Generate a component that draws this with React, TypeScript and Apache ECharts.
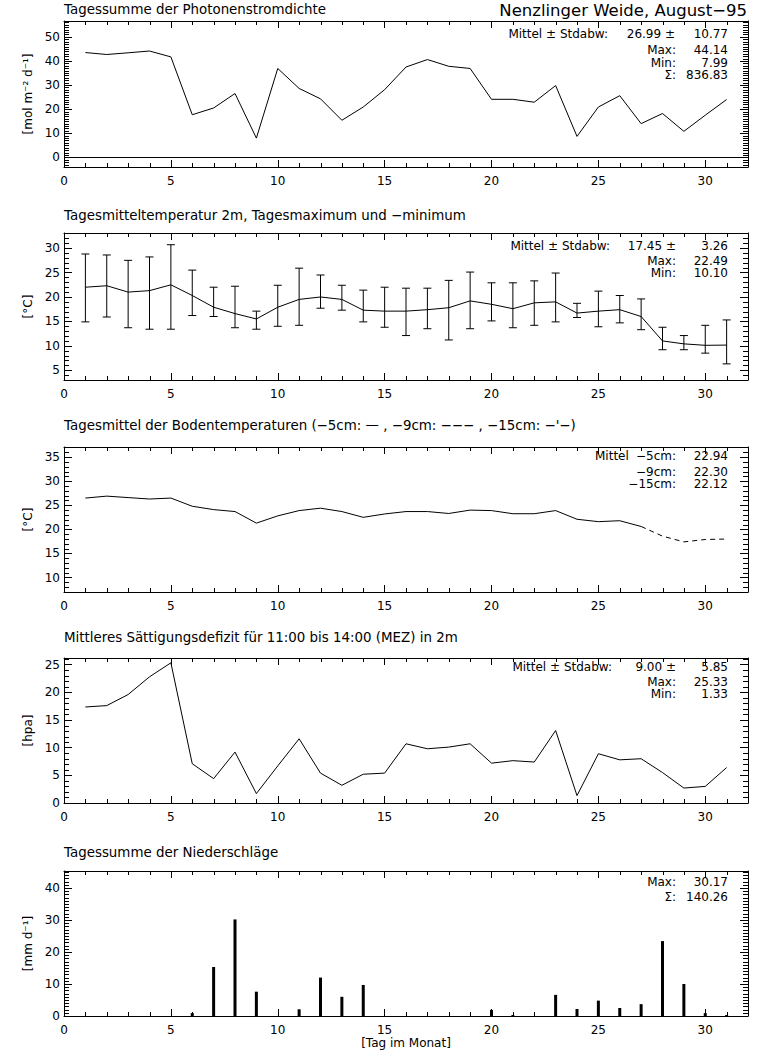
import React, { useEffect, useRef } from 'react';
import * as echarts from 'echarts';

// ---------- data ----------
const days = Array.from({ length: 31 }, (_, i) => i + 1);

const photon = [43.5, 42.7, 43.4, 44.14, 41.7, 17.7, 20.5, 26.5, 7.99, 36.9, 28.6, 24.3, 15.4, 20.9, 28.1,
  37.5, 40.6, 37.8, 36.9, 24.1, 24.1, 22.9, 29.8, 8.7, 20.9, 25.6, 14.0, 18.2, 10.8, 17.5, 24.0];

const tMean = [22.0, 22.3, 21.0, 21.3, 22.49, 20.3, 17.9, 16.6, 15.5, 17.9, 19.5, 20.0, 19.5, 17.3, 17.1,
  17.1, 17.4, 17.8, 19.2, 18.5, 17.6, 18.8, 19.0, 16.7, 17.1, 17.4, 16.0, 11.0, 10.4, 10.1, 10.15];
const tMax = [28.8, 28.6, 27.5, 28.2, 30.7, 25.5, 22.0, 22.2, 17.1, 22.4, 25.9, 24.5, 22.4, 21.4, 22.0,
  21.8, 21.8, 23.4, 25.1, 22.9, 22.9, 23.3, 24.9, 18.7, 21.2, 20.3, 19.6, 13.8, 12.1, 14.2, 15.3];
const tMin = [14.9, 15.9, 13.7, 13.4, 13.4, 16.2, 16.0, 13.7, 13.4, 14.0, 14.2, 17.7, 17.3, 14.9, 13.8,
  12.1, 13.5, 11.2, 13.5, 15.1, 13.7, 14.2, 14.9, 15.8, 13.9, 14.7, 13.3, 9.2, 9.2, 8.5, 6.3];

const soil5 = [26.5, 26.9, 26.6, 26.3, 26.5, 24.8, 24.1, 23.7, 21.3, 22.8, 23.9, 24.4, 23.7, 22.5, 23.2,
  23.7, 23.7, 23.3, 24.0, 23.9, 23.25, 23.25, 23.9, 22.1, 21.6, 21.8, 20.6, null, null, null, null];
const soil9 = [null, null, null, null, null, null, null, null, null, null, null, null, null, null, null,
  null, null, null, null, null, null, null, null, null, null, null, 20.6, 18.6, 17.4, 17.9, 18.0];

const vpd = [17.35, 17.6, 19.6, 22.8, 25.33, 7.1, 4.4, 9.2, 1.7, 6.7, 11.6, 5.4, 3.2, 5.2, 5.4,
  10.7, 9.8, 10.1, 10.7, 7.2, 7.65, 7.4, 13.1, 1.33, 8.9, 7.8, 8.0, 5.5, 2.7, 3.0, 6.4];

const rain = [0, 0, 0, 0, 0, 0.9, 15.3, 30.17, 7.6, 0, 2.1, 12.0, 6.0, 9.7, 0,
  0, 0, 0, 0, 1.9, 0.3, 0, 6.6, 2.2, 4.8, 2.5, 3.7, 23.4, 10.0, 0.9, 0.3];

const xTicks = [0, 5, 10, 15, 20, 25, 30];

// ---------- styling helpers ----------
const FONT = 'DejaVu Sans';
const K = '#000';
const TITLE = 13.4;
const X_MIN = 0;
const X_MAX = 32;
const X_MAJOR = 5;

function xAxes(grid: number, name?: string) {
  const base: any = {
    type: 'value', gridIndex: grid, min: X_MIN, max: X_MAX, interval: X_MAJOR, z: 5,
    axisLine: { show: true, onZero: false, lineStyle: { color: K, width: 1 } },
    axisTick: { show: true, inside: true, length: 7, lineStyle: { color: K, width: 1 } },
    splitLine: { show: false },
  };
  return [
    {
      ...base, position: 'bottom',
      axisLabel: {
        show: true, margin: 8, color: K, fontFamily: FONT, fontSize: 12,
        formatter: (v: number) => (xTicks.indexOf(v) >= 0 ? String(v) : ''),
      },
      name: name || '', nameLocation: 'middle', nameGap: 20,
      nameTextStyle: { color: K, fontFamily: FONT, fontSize: 12 },
    },
    { ...base, position: 'top', axisLabel: { show: false } },
  ];
}

function yAxes(grid: number, min: number, max: number, major: number, name: string) {
  const base: any = {
    type: 'value', gridIndex: grid, min, max, minInterval: major, maxInterval: major, splitNumber: 5, z: 5,
    axisLine: { show: true, onZero: false, lineStyle: { color: K, width: 1 } },
    axisTick: { show: true, inside: true, length: 8, lineStyle: { color: K, width: 1 } },
    splitLine: { show: false },
  };
  return [
    {
      ...base, position: 'left',
      axisLabel: {
        show: true, margin: 4, color: K, fontFamily: FONT, fontSize: 12,
        formatter: (v: number) => (Math.abs(v / major - Math.round(v / major)) < 1e-6 ? String(Math.round(v)) : ''),
      },
      name, nameLocation: 'middle', nameGap: 25, nameRotate: 90,
      nameTextStyle: { color: K, fontFamily: FONT, fontSize: 12 },
    },
    { ...base, position: 'right', axisLabel: { show: false } },
  ];
}

// minor tick positions (every unit) on the four sides of a panel, placed by the axes' scales
function minorTickSeries(g: number, yMin: number, yMax: number, yMajor: number) {
  const data: number[][] = [];
  for (let v = X_MIN + 1; v < X_MAX; v++) if (v % X_MAJOR !== 0) data.push([v, yMin, 0]);
  for (let v = Math.ceil(yMin) + 1; v < yMax; v++) if (v % yMajor !== 0) data.push([X_MIN, v, 1]);
  return {
    type: 'custom', xAxisIndex: 2 * g, yAxisIndex: 2 * g, silent: true, clip: false, z: 6,
    data,
    renderItem: (params: any, api: any) => {
      const cs = params.coordSys;
      const p = api.coord([api.value(0), api.value(1)]);
      const st = { stroke: K, lineWidth: 1 };
      if (api.value(2) === 0) {
        const px = Math.round(p[0]) + 0.5;
        const b = Math.round(cs.y + cs.height);
        const t = Math.round(cs.y);
        return {
          type: 'group', children: [
            { type: 'line', shape: { x1: px, y1: b, x2: px, y2: b - 4 }, style: st },
            { type: 'line', shape: { x1: px, y1: t, x2: px, y2: t + 4 }, style: st },
          ],
        };
      }
      const py = Math.round(p[1]) + 0.5;
      const l = Math.round(cs.x);
      const r = Math.round(cs.x + cs.width);
      return {
        type: 'group', children: [
          { type: 'line', shape: { x1: l, y1: py, x2: l + 5, y2: py }, style: st },
          { type: 'line', shape: { x1: r, y1: py, x2: r - 5, y2: py }, style: st },
        ],
      };
    },
  };
}

function txt(text: string, x: number, y: number, align: string = 'left', size: number = 12) {
  return {
    type: 'text', x, y, silent: true,
    style: {
      text, fill: K, fontFamily: FONT, fontSize: size,
      textAlign: align, align, textVerticalAlign: 'middle', verticalAlign: 'middle',
    },
  };
}

const lineStyle = { color: K, width: 1 };

export default function App() {
  const ref = useRef<HTMLDivElement>(null);
  useEffect(() => {
    if (!ref.current) return;
    const chart = echarts.init(ref.current, null, { renderer: 'svg' });

    const grids = [
      { left: 64, top: 21, width: 684, height: 146 },
      { left: 64, top: 233, width: 684, height: 147 },
      { left: 64, top: 447, width: 684, height: 145 },
      { left: 64, top: 658, width: 684, height: 145 },
      { left: 64, top: 871, width: 684, height: 145 },
    ];

    const yCfg: [number, number, number, string][] = [
      [-4, 56.6, 10, '[mol m⁻² d⁻¹]'],
      [3, 33.1, 5, '[°C]'],
      [7, 37.1, 5, '[°C]'],
      [0, 26.2, 5, '[hpa]'],
      [0, 45.3, 10, '[mm d⁻¹]'],
    ];

    const xAxis = [
      ...xAxes(0), ...xAxes(1), ...xAxes(2), ...xAxes(3), ...xAxes(4, '[Tag im Monat]'),
    ];
    const yAxis = yCfg.flatMap((c, g) => yAxes(g, c[0], c[1], c[2], c[3]));

    const pair = (arr: (number | null)[]) => days.map((d, i) => [d, arr[i]]);
    const ax = (g: number) => ({ xAxisIndex: 2 * g, yAxisIndex: 2 * g });

    const series: any[] = [
      ...yCfg.map((c, g) => minorTickSeries(g, c[0], c[1], c[2])),
      {
        type: 'line', ...ax(0), data: pair(photon), symbol: 'none', lineStyle,
        markLine: {
          silent: true, symbol: 'none', label: { show: false },
          lineStyle: { color: K, width: 1, type: 'solid' },
          data: [{ yAxis: 0 }],
        },
      },
      { type: 'line', ...ax(1), data: pair(tMean), symbol: 'none', lineStyle },
      {
        type: 'custom', ...ax(1),
        data: days.map((d, i) => [d, tMin[i], tMax[i]]),
        renderItem: (params: any, api: any) => {
          const x = api.value(0);
          const lo = api.coord([x, api.value(1)]);
          const hi = api.coord([x, api.value(2)]);
          const w = 4;
          const st = { stroke: K, lineWidth: 1 };
          return {
            type: 'group',
            children: [
              { type: 'line', shape: { x1: lo[0], y1: lo[1], x2: hi[0], y2: hi[1] }, style: st },
              { type: 'line', shape: { x1: lo[0] - w, y1: lo[1], x2: lo[0] + w, y2: lo[1] }, style: st },
              { type: 'line', shape: { x1: hi[0] - w, y1: hi[1], x2: hi[0] + w, y2: hi[1] }, style: st },
            ],
          };
        },
      },
      { type: 'line', ...ax(2), data: pair(soil5), symbol: 'none', lineStyle },
      {
        type: 'line', ...ax(2), data: pair(soil9), symbol: 'none',
        lineStyle: { color: K, width: 1, type: [5, 4] },
      },
      { type: 'line', ...ax(3), data: pair(vpd), symbol: 'none', lineStyle },
      {
        type: 'bar', ...ax(4), barWidth: 3,
        data: days.map((d, i) => [d, rain[i]]).filter((p) => p[1] > 0),
        itemStyle: { color: K },
      },
    ];

    const graphic = [
      txt('Tagessumme der Photonenstromdichte', 64, 9, 'left', TITLE),
      txt('Nenzlinger Weide, August−95', 747, 10, 'right', 16.5),
      txt('Mittel ± Stdabw:', 608, 34, 'right'),
      txt('26.99 ±', 675, 34, 'right'),
      txt('10.77', 728, 34, 'right'),
      txt('Max:', 676, 50, 'right'), txt('44.14', 728, 50, 'right'),
      txt('Min:', 676, 62.5, 'right'), txt('7.99', 728, 62.5, 'right'),
      txt('Σ:', 676, 75, 'right'), txt('836.83', 728, 75, 'right'),

      txt('Tagesmitteltemperatur 2m, Tagesmaximum und −minimum', 64, 215, 'left', TITLE),
      txt('Mittel ± Stdabw:', 610, 245.5, 'right'),
      txt('17.45 ±', 676, 245.5, 'right'),
      txt('3.26', 728, 245.5, 'right'),
      txt('Max:', 676, 260.7, 'right'), txt('22.49', 728, 260.7, 'right'),
      txt('Min:', 676, 273.3, 'right'), txt('10.10', 728, 273.3, 'right'),

      txt("Tagesmittel der Bodentemperaturen (−5cm: — , −9cm: −−− , −15cm: −'−)", 64, 425, 'left', TITLE),
      txt('Mittel', 595, 456, 'left'),
      txt('−5cm:', 676, 456, 'right'), txt('22.94', 728, 456, 'right'),
      txt('−9cm:', 676, 471.7, 'right'), txt('22.30', 728, 471.7, 'right'),
      txt('−15cm:', 676, 483.7, 'right'), txt('22.12', 728, 483.7, 'right'),

      txt('Mittleres Sättigungsdefizit für 11:00 bis 14:00 (MEZ) in 2m', 64, 637, 'left', TITLE),
      txt('Mittel ± Stdabw:', 612, 666.7, 'right'),
      txt('9.00 ±', 676, 666.7, 'right'),
      txt('5.85', 728, 666.7, 'right'),
      txt('Max:', 676, 681.7, 'right'), txt('25.33', 728, 681.7, 'right'),
      txt('Min:', 676, 694, 'right'), txt('1.33', 728, 694, 'right'),

      txt('Tagessumme der Niederschläge', 64, 852, 'left', TITLE),
      txt('Max:', 676, 882.3, 'right'), txt('30.17', 728, 882.3, 'right'),
      txt('Σ:', 676, 896.7, 'right'), txt('140.26', 728, 896.7, 'right'),
    ];

    chart.setOption({
      animation: false,
      backgroundColor: '#fff',
      textStyle: { fontFamily: FONT },
      grid: grids,
      xAxis,
      yAxis,
      series,
      graphic: { elements: graphic },
    });
    return () => chart.dispose();
  }, []);

  return (
    <div
      ref={ref}
      style={{ position: 'absolute', left: 0, top: 0, width: 768, height: 1060, background: '#fff' }}
    />
  );
}
